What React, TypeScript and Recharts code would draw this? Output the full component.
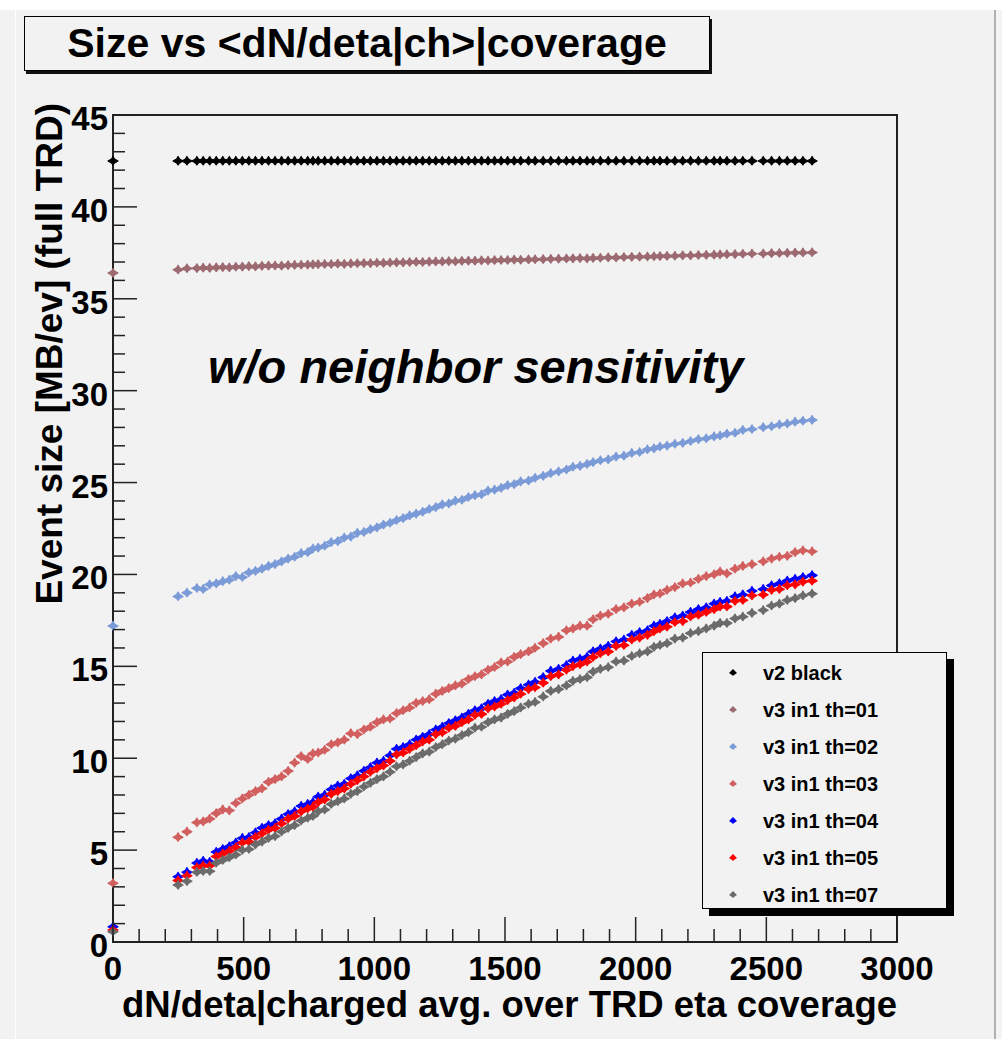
import { ScatterChart, Scatter, XAxis, YAxis, ReferenceArea } from 'recharts';

// shared dN/deta values (x) for every series
const dNdeta = [
  0, 249, 283, 321, 345, 370, 395, 420, 445, 470, 495, 520, 545, 570, 595, 620, 645, 670, 695, 720, 745, 765,
  785, 810, 835, 860, 885, 910, 935, 960, 985, 1010, 1035, 1060, 1085, 1110, 1135, 1160, 1185, 1210, 1235, 1260,
  1285, 1310, 1335, 1360, 1385, 1410, 1435, 1460, 1485, 1510, 1535, 1560, 1590, 1615,
  1646, 1675, 1705, 1735, 1760, 1787, 1814,
  1837, 1865, 1895, 1925, 1955, 1985, 2015, 2045, 2070, 2093,
  2120, 2150, 2180, 2210, 2240, 2270, 2300, 2323,
  2349, 2380, 2410, 2445,
  2488, 2520, 2550, 2580, 2610, 2640, 2675,
];

const v2Black = [
  42.5, 42.5, 42.5, 42.5, 42.5, 42.5, 42.5, 42.5, 42.5, 42.5, 42.5, 42.5, 42.5, 42.5, 42.5, 42.5, 42.5, 42.5, 42.5, 42.5, 42.5, 42.5,
  42.5, 42.5, 42.5, 42.5, 42.5, 42.5, 42.5, 42.5, 42.5, 42.5, 42.5, 42.5, 42.5, 42.5, 42.5, 42.5, 42.5, 42.5, 42.5, 42.5,
  42.5, 42.5, 42.5, 42.5, 42.5, 42.5, 42.5, 42.5, 42.5, 42.5, 42.5, 42.5, 42.5, 42.5,
  42.5, 42.5, 42.5, 42.5, 42.5, 42.5, 42.5,
  42.5, 42.5, 42.5, 42.5, 42.5, 42.5, 42.5, 42.5, 42.5, 42.5,
  42.5, 42.5, 42.5, 42.5, 42.5, 42.5, 42.5, 42.5,
  42.5, 42.5, 42.5, 42.5,
  42.5, 42.5, 42.5, 42.5, 42.5, 42.5, 42.5,
];

const th01 = [
  36.4, 36.58, 36.65, 36.66, 36.68, 36.67, 36.7, 36.71, 36.7, 36.73, 36.74, 36.76, 36.75, 36.78, 36.79, 36.8, 36.79, 36.82, 36.83, 36.84, 36.85, 36.86,
  36.87, 36.88, 36.88, 36.9, 36.89, 36.91, 36.92, 36.93, 36.93, 36.95, 36.94, 36.96, 36.97, 36.97, 36.99, 37.0, 36.99, 37.01, 37.02, 37.02,
  37.04, 37.03, 37.05, 37.06, 37.06, 37.08, 37.07, 37.09, 37.1, 37.1, 37.12, 37.11, 37.13, 37.14,
  37.15, 37.16, 37.17, 37.18, 37.19, 37.2, 37.19,
  37.21, 37.22, 37.24, 37.24, 37.26, 37.27, 37.28, 37.29, 37.3, 37.31,
  37.32, 37.33, 37.35, 37.35, 37.37, 37.38, 37.39, 37.4,
  37.41, 37.42, 37.44, 37.45,
  37.45, 37.47, 37.48, 37.49, 37.5, 37.51, 37.52,
];

const th02 = [
  17.2, 18.8, 19.0, 19.25, 19.2, 19.45, 19.5, 19.62, 19.7, 19.9, 19.85, 20.1, 20.18, 20.3, 20.45, 20.55, 20.7, 20.85, 20.95, 21.15, 21.2, 21.4,
  21.45, 21.55, 21.75, 21.8, 22.0, 22.05, 22.25, 22.3, 22.45, 22.55, 22.7, 22.8, 22.95, 23.05, 23.2, 23.3, 23.4, 23.55, 23.65, 23.8,
  23.85, 24.0, 24.05, 24.2, 24.3, 24.35, 24.55, 24.6, 24.7, 24.85, 24.9, 25.05, 25.1, 25.25,
  25.35, 25.5, 25.6, 25.7, 25.85, 25.9, 26.0,
  26.1, 26.2, 26.25, 26.4, 26.45, 26.6, 26.65, 26.8, 26.85, 26.95,
  27.0, 27.1, 27.15, 27.25, 27.35, 27.4, 27.5, 27.55,
  27.65, 27.7, 27.85, 27.9,
  28.0, 28.05, 28.15, 28.2, 28.3, 28.35, 28.4,
];

const th03 = [
  3.2, 5.7, 6.0, 6.5, 6.55, 6.7, 7.0, 7.2, 7.15, 7.55, 7.8, 8.0, 8.2, 8.35, 8.7, 8.85, 9.0, 9.3, 9.75, 10.1, 9.95, 10.25,
  10.3, 10.45, 10.75, 10.85, 11.0, 11.35, 11.3, 11.55, 11.7, 11.95, 12.1, 12.15, 12.45, 12.6, 12.75, 13.0, 13.1, 13.2, 13.5, 13.65,
  13.8, 13.95, 14.05, 14.3, 14.45, 14.55, 14.8, 14.95, 15.2, 15.25, 15.5, 15.65, 15.8, 16.0,
  16.25, 16.5, 16.6, 16.95, 17.05, 17.2, 17.2,
  17.55, 17.75, 17.85, 18.1, 18.2, 18.4, 18.5, 18.7, 18.9, 18.95,
  19.15, 19.3, 19.5, 19.55, 19.75, 19.9, 20.0, 20.15,
  20.05, 20.3, 20.45, 20.55,
  20.7, 20.85, 20.95, 21.0, 21.2, 21.3, 21.25,
];

const th04 = [
  0.83, 3.55, 3.8, 4.3, 4.4, 4.35, 4.9, 5.05, 5.2, 5.4, 5.65, 5.7, 5.95, 6.2, 6.35, 6.45, 6.7, 6.95, 7.1, 7.4, 7.5, 7.6,
  7.9, 8.0, 8.3, 8.5, 8.6, 8.9, 9.05, 9.3, 9.5, 9.75, 9.85, 10.15, 10.5, 10.6, 10.75, 11.0, 11.15, 11.3, 11.55, 11.7,
  11.9, 12.05, 12.2, 12.4, 12.6, 12.7, 12.95, 13.1, 13.2, 13.45, 13.55, 13.8, 14.0, 14.15,
  14.4, 14.75, 14.85, 15.05, 15.3, 15.4, 15.5,
  15.8, 15.95, 16.1, 16.35, 16.45, 16.7, 16.85, 16.95, 17.2, 17.3,
  17.45, 17.65, 17.75, 17.95, 18.1, 18.2, 18.4, 18.5,
  18.55, 18.8, 18.9, 19.1,
  19.2, 19.4, 19.5, 19.65, 19.75, 19.85, 19.95,
];

const th05 = [
  0.65, 3.35, 3.6, 4.05, 4.15, 4.15, 4.65, 4.8, 4.95, 5.15, 5.4, 5.45, 5.7, 5.9, 6.1, 6.2, 6.45, 6.7, 6.85, 7.1, 7.25, 7.35,
  7.6, 7.75, 8.05, 8.2, 8.35, 8.6, 8.8, 9.0, 9.25, 9.45, 9.6, 9.85, 10.2, 10.3, 10.5, 10.7, 10.9, 11.0, 11.3, 11.4,
  11.65, 11.75, 11.95, 12.1, 12.35, 12.4, 12.7, 12.8, 12.95, 13.15, 13.3, 13.5, 13.75, 13.85,
  14.1, 14.45, 14.55, 14.8, 15.0, 15.1, 15.25,
  15.5, 15.7, 15.8, 16.1, 16.15, 16.45, 16.55, 16.7, 16.9, 17.05,
  17.15, 17.4, 17.45, 17.7, 17.8, 17.95, 18.1, 18.25,
  18.25, 18.55, 18.6, 18.85,
  18.9, 19.15, 19.2, 19.4, 19.45, 19.6, 19.65,
];

const th07 = [
  0.56, 3.1, 3.3, 3.8, 3.85, 3.85, 4.3, 4.45, 4.6, 4.75, 5.0, 5.05, 5.3, 5.45, 5.65, 5.75, 6.0, 6.2, 6.35, 6.6, 6.75, 6.85,
  7.1, 7.2, 7.5, 7.65, 7.8, 8.05, 8.2, 8.45, 8.65, 8.85, 9.0, 9.25, 9.55, 9.65, 9.85, 10.05, 10.25, 10.35, 10.6, 10.75,
  10.95, 11.05, 11.25, 11.4, 11.65, 11.7, 11.95, 12.1, 12.2, 12.4, 12.55, 12.75, 12.95, 13.05,
  13.35, 13.65, 13.75, 13.95, 14.2, 14.3, 14.4,
  14.7, 14.85, 14.95, 15.25, 15.3, 15.55, 15.7, 15.8, 16.05, 16.15,
  16.25, 16.5, 16.55, 16.8, 16.9, 17.05, 17.2, 17.35,
  17.35, 17.6, 17.7, 17.9,
  18.05, 18.3, 18.4, 18.6, 18.7, 18.85, 18.95,
];

const xTicks = [
  0, 100, 200, 300, 400, 500, 600, 700, 800, 900, 1000, 1100, 1200, 1300, 1400, 1500, 1600, 1700, 1800, 1900,
  2000, 2100, 2200, 2300, 2400, 2500, 2600, 2700, 2800, 2900, 3000,
];
const yTicks = [
  0, 1, 2, 3, 4, 5, 6, 7, 8, 9, 10, 11, 12, 13, 14, 15, 16, 17, 18, 19, 20, 21, 22, 23, 24, 25, 26, 27, 28, 29, 30,
  31, 32, 33, 34, 35, 36, 37, 38, 39, 40, 41, 42, 43, 44, 45,
];

const series = [
  { name: 'v2 black', values: v2Black, color: '#000000' },
  { name: 'v3 in1 th=01', values: th01, color: '#9c6a70' },
  { name: 'v3 in1 th=02', values: th02, color: '#7b9bd8' },
  { name: 'v3 in1 th=03', values: th03, color: '#d25f5f' },
  { name: 'v3 in1 th=04', values: th04, color: '#0000ff' },
  { name: 'v3 in1 th=05', values: th05, color: '#ff0000' },
  { name: 'v3 in1 th=07', values: th07, color: '#6b6b6b' },
];

const FONT = '"Liberation Sans", Arial, Helvetica, sans-serif';

function Marker(props: any) {
  const { cx, cy, fill } = props;
  if (cx == null || cy == null) return null;
  const d = `M${cx - 5},${cy} L${cx - 1.5},${cy - 2} L${cx},${cy - 4.5} L${cx + 1.5},${cy - 2} L${cx + 5},${cy} L${cx + 1.5},${cy + 2} L${cx},${cy + 4} L${cx - 1.5},${cy + 2} Z`;
  return <path d={d} fill={fill} stroke={fill} strokeWidth={1.2} strokeLinejoin="round" />;
}

function renderXTick(props: any) {
  const { x, y, payload } = props;
  const major = payload.value % 500 === 0;
  return (
    <g key={`xt-${payload.value}`}>
      <line x1={x} y1={y} x2={x} y2={y - (major ? 25 : 13)} stroke="#222" strokeWidth={1.5} />
      {major && (
        <text x={x} y={y + 38} textAnchor="middle" fontFamily={FONT} fontWeight="bold" fontSize={33} fill="#000">
          {payload.value}
        </text>
      )}
    </g>
  );
}

function renderYTick(props: any) {
  const { x, y, payload } = props;
  const major = payload.value % 5 === 0;
  return (
    <g key={`yt-${payload.value}`}>
      <line x1={x} y1={y} x2={x + (major ? 24 : 12)} y2={y} stroke="#222" strokeWidth={1.5} />
      {major && (
        <text x={x - 5} y={y + 15} textAnchor="end" fontFamily={FONT} fontWeight="bold" fontSize={33} fill="#000">
          {payload.value}
        </text>
      )}
    </g>
  );
}

export default function App() {
  return (
    <div style={{ position: 'absolute', left: 0, top: 0, width: 1002, height: 1039, background: '#ffffff', overflow: 'hidden' }}>
      <div style={{ position: 'absolute', left: 0, top: 10, width: 994, height: 1029, background: '#f2f2f2' }} />
      <div style={{ position: 'absolute', left: 15, top: 10, width: 1, height: 1029, background: '#ffffff' }} />
      <div style={{ position: 'absolute', left: 994, top: 10, width: 2, height: 1029, background: '#b0b0b0' }} />
      <div style={{ position: 'absolute', left: 996, top: 10, width: 6, height: 1029, background: '#f4f4f4' }} />

      <div style={{ position: 'absolute', left: 0, top: 0 }}>
        <ScatterChart width={1002} height={1039} margin={{ top: 115, right: 105, bottom: 96, left: 112 }}>
          <XAxis
            type="number"
            dataKey="x"
            domain={[0, 3000]}
            ticks={xTicks}
            interval={0}
            height={1}
            tickSize={0}
            tickMargin={0}
            axisLine={false}
            tickLine={false}
            tick={renderXTick}
          />
          <YAxis
            type="number"
            dataKey="y"
            domain={[0, 45]}
            ticks={yTicks}
            interval={0}
            width={1}
            tickSize={0}
            tickMargin={0}
            axisLine={false}
            tickLine={false}
            tick={renderYTick}
          />
          <ReferenceArea x1={0} x2={3000} y1={0} y2={45} fill="none" stroke="#222" strokeWidth={2} />
          {series.map((s) => (
            <Scatter
              key={s.name}
              name={s.name}
              data={dNdeta.map((x, i) => ({ x, y: s.values[i] }))}
              fill={s.color}
              shape={<Marker />}
              isAnimationActive={false}
            />
          ))}
        </ScatterChart>
      </div>

      <svg width={1002} height={1039} style={{ position: 'absolute', left: 0, top: 0, pointerEvents: 'none' }}>
        <text x={62} y={103} transform="rotate(-90 62 103)" textAnchor="end" fontFamily={FONT} fontWeight="bold" fontSize={37} fill="#000">
          Event size [MB/ev] (full TRD)
        </text>
        <text x={897} y={1017} textAnchor="end" fontFamily={FONT} fontWeight="bold" fontSize={36.5} fill="#000">
          dN/deta|charged avg. over TRD eta coverage
        </text>
        <text x={208} y={383} fontFamily={FONT} fontWeight="bold" fontStyle="italic" fontSize={47} fill="#000">
          w/o neighbor sensitivity
        </text>
      </svg>

      <div
        style={{
          position: 'absolute',
          left: 24,
          top: 16,
          width: 684,
          height: 53,
          border: '1.5px solid #000',
          boxShadow: '2px 3px 0 #111',
          background: '#f2f2f2',
          fontFamily: FONT,
          fontWeight: 'bold',
          fontSize: 41,
          lineHeight: '53px',
          textAlign: 'center',
          color: '#000',
        }}
      >
        {'Size vs <dN/deta|ch>|coverage'}
      </div>

      <div
        style={{
          position: 'absolute',
          left: 702,
          top: 652,
          width: 243,
          height: 255,
          border: '1.5px solid #000',
          boxShadow: '7px 7px 0 #000',
          background: '#f2f2f2',
          fontFamily: FONT,
          fontWeight: 'bold',
          fontSize: 20,
          color: '#000',
        }}
      >
        {series.map((s, i) => (
          <div key={s.name} style={{ position: 'absolute', left: 0, top: 5 + i * 37, height: 30, display: 'flex', alignItems: 'center' }}>
            <svg width={60} height={30}>
              <path d="M26,15 L29,12 L30,11 L31,12 L34,15 L31,17 L30,18 L29,17 Z" fill={s.color} />
            </svg>
            <span>{s.name}</span>
          </div>
        ))}
      </div>
    </div>
  );
}
